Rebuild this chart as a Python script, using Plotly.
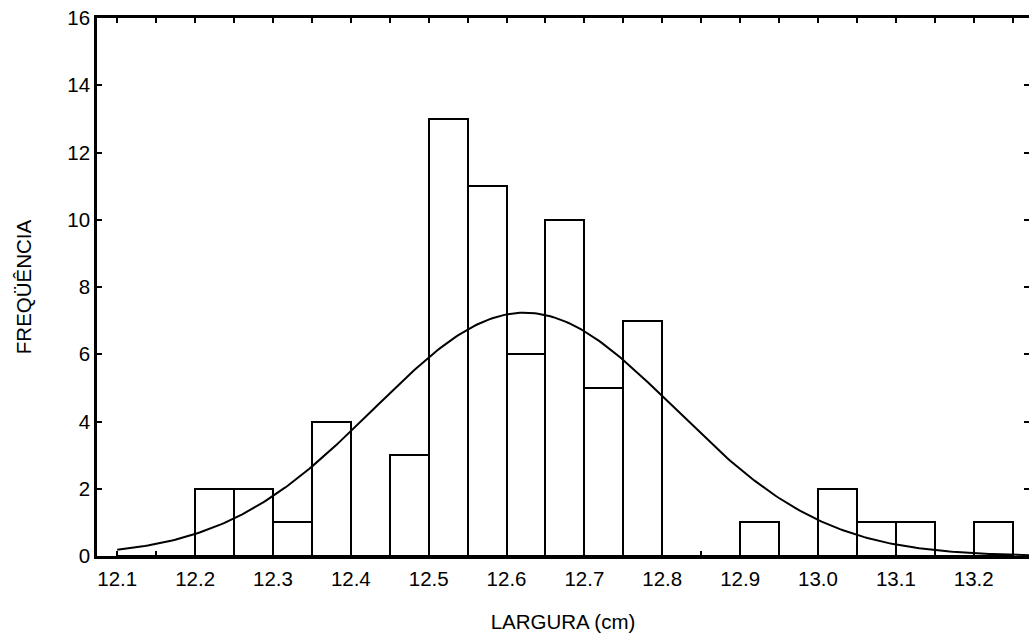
import numpy as np
import plotly.graph_objects as go

# Histogram of widths: bin lower edges (cm) and counts per 0.05 cm bin
bin_start = [12.10, 12.15, 12.20, 12.25, 12.30, 12.35, 12.40, 12.45, 12.50, 12.55,
             12.60, 12.65, 12.70, 12.75, 12.80, 12.85, 12.90, 12.95, 13.00, 13.05,
             13.10, 13.15, 13.20]
counts = [0, 0, 2, 2, 1, 4, 0, 3, 13, 11,
          6, 10, 5, 7, 0, 0, 1, 0, 2, 1,
          1, 0, 1]
bin_width = 0.05

# Fitted normal distribution parameters
fit_mean = 12.623
fit_sd = 0.193

x_tick_vals = [12.1, 12.2, 12.3, 12.4, 12.5, 12.6, 12.7, 12.8, 12.9, 13.0, 13.1, 13.2]
x_tick_text = ["12.1", "12.2", "12.3", "12.4", "12.5", "12.6", "12.7", "12.8",
               "12.9", "13.0", "13.1", "13.2"]
y_tick_vals = [0, 2, 4, 6, 8, 10, 12, 14, 16]

x_range = [12.074, 13.271]
y_range = [0, 16]

FONT = "Liberation Sans, Arial, Helvetica, sans-serif"
FS = 20.5

centers = [s + bin_width / 2 for s in bin_start]
n_total = sum(counts)

# Expected-frequency curve scaled to the histogram
xc = np.linspace(12.1, x_range[1], 300)
yc = n_total * bin_width / (fit_sd * np.sqrt(2 * np.pi)) * np.exp(-0.5 * ((xc - fit_mean) / fit_sd) ** 2)

fig = go.Figure()
fig.add_trace(go.Bar(
    x=centers, y=counts, width=bin_width,
    marker=dict(color="white", line=dict(color="black", width=2)),
    hoverinfo="x+y", showlegend=False,
))
fig.add_trace(go.Scatter(
    x=xc, y=yc, mode="lines",
    line=dict(color="black", width=2),
    showlegend=False, hoverinfo="skip",
))
# carrier trace for the right-hand tick axis
fig.add_trace(go.Scatter(x=[x_range[0]], y=[0], yaxis="y2", mode="markers",
                         marker=dict(opacity=0), showlegend=False, hoverinfo="skip"))

fig.update_layout(
    width=1029, height=642,
    margin=dict(l=97, r=0, t=18, b=86),
    paper_bgcolor="white", plot_bgcolor="white",
    font=dict(family=FONT, size=FS, color="black"),
    bargap=0,
    xaxis=dict(
        range=x_range,
        tickvals=x_tick_vals, ticktext=x_tick_text,
        ticks="inside", ticklen=5, tickwidth=2, tickcolor="black",
        minor=dict(tick0=12.1, dtick=0.05, ticks="inside", ticklen=5,
                   tickwidth=2, tickcolor="black"),
        showline=True, linecolor="black", linewidth=2.5,
        mirror="ticks",
        showgrid=False, zeroline=False,
        ticklabelstandoff=3,
        tickfont=dict(size=FS),
        title=dict(text="LARGURA (cm)", font=dict(size=FS), standoff=26),
    ),
    yaxis=dict(
        range=y_range,
        tickvals=y_tick_vals,
        ticks="inside", ticklen=5, tickwidth=2, tickcolor="black",
        showline=True, linecolor="black", linewidth=2.5,
        showgrid=False, zeroline=False,
        tickfont=dict(size=FS),
        title=dict(text="FREQÜÊNCIA", font=dict(size=FS), standoff=31),
    ),
    yaxis2=dict(
        range=y_range, overlaying="y", side="right",
        tickvals=y_tick_vals,
        ticks="inside", ticklen=5, tickwidth=2, tickcolor="black",
        showticklabels=False, showline=False, showgrid=False, zeroline=False,
    ),
)

fig.write_html("out.html")
